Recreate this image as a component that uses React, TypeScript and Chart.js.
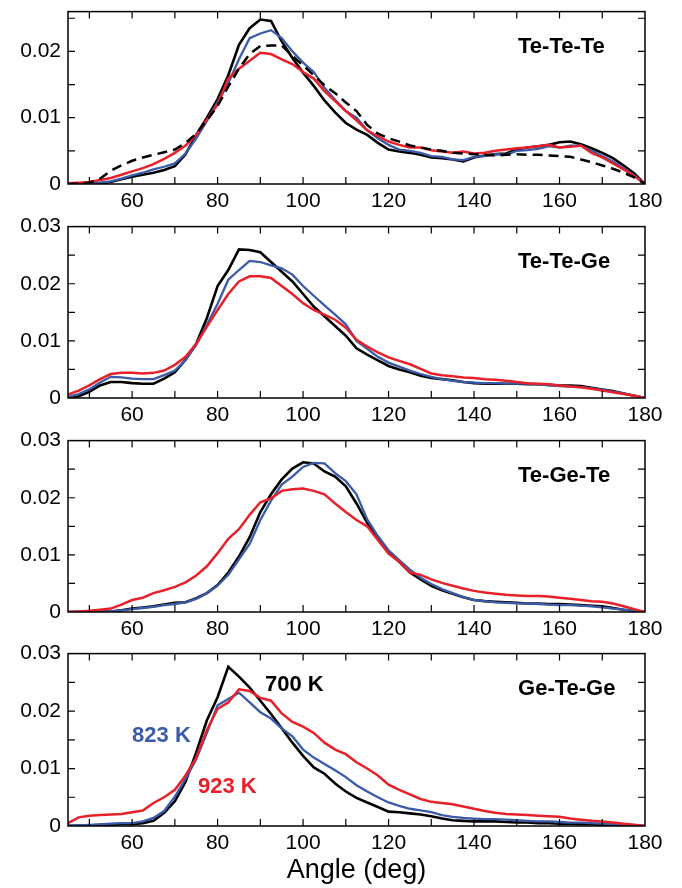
import React, { useEffect, useRef } from "react";
import { Chart, registerables } from "chart.js";

Chart.register(...registerables);

// ---------- data ----------
const angles = [
  45, 47.5, 50, 52.5, 55, 57.5, 60, 62.5, 65, 67.5, 70, 72.5, 75, 77.5, 80, 82.5, 85, 87.5, 90, 92.5,
  95, 97.5, 100, 102.5, 105, 107.5, 110, 112.5, 115, 117.5, 120, 122.5, 125, 127.5, 130, 132.5, 135,
  137.5, 140, 142.5, 145, 147.5, 150, 152.5, 155, 157.5, 160, 162.5, 165, 167.5, 170, 172.5, 175,
  177.5, 180,
];
const xTickValues = [60, 80, 100, 120, 140, 160, 180];
const xMinorTicks = [50, 60, 70, 80, 90, 100, 110, 120, 130, 140, 150, 160, 170];
const yTicksTop = [0, 0.01, 0.02];
const yTicksOther = [0, 0.01, 0.02, 0.03];
const yMinorTicks = [0.005, 0.01, 0.015, 0.02, 0.025];

// Te-Te-Te
const ttt700 = [0, 0, 0, 0.0001, 0.0003, 0.0007, 0.0011, 0.0014, 0.0017, 0.0021, 0.0027, 0.0045, 0.0074, 0.01, 0.0128, 0.0164, 0.021, 0.0235, 0.0248, 0.0246, 0.0215, 0.019, 0.0168, 0.0148, 0.0126, 0.0108, 0.0092, 0.0082, 0.0074, 0.0062, 0.0052, 0.0049, 0.0047, 0.0044, 0.004, 0.0039, 0.0037, 0.0034, 0.004, 0.0043, 0.0045, 0.0046, 0.0052, 0.0055, 0.0057, 0.0059, 0.0063, 0.0064, 0.006, 0.0054, 0.0047, 0.0039, 0.0028, 0.0016, 0];
const ttt823 = [0, 0, 0, 0.0002, 0.0004, 0.0008, 0.0013, 0.0017, 0.0022, 0.0026, 0.0031, 0.0046, 0.0069, 0.0095, 0.0123, 0.0152, 0.0188, 0.022, 0.0227, 0.0232, 0.022, 0.02, 0.0183, 0.0169, 0.0145, 0.0127, 0.011, 0.01, 0.0081, 0.0069, 0.0059, 0.0052, 0.005, 0.0047, 0.0042, 0.0041, 0.0037, 0.0036, 0.0041, 0.0042, 0.0045, 0.0044, 0.005, 0.0051, 0.0053, 0.0057, 0.0055, 0.0058, 0.0058, 0.005, 0.0042, 0.0034, 0.0024, 0.0013, 0];
const ttt923 = [0.0001, 0.0002, 0.0003, 0.0006, 0.0009, 0.0014, 0.0019, 0.0024, 0.003, 0.0038, 0.0047, 0.0058, 0.0074, 0.0097, 0.012, 0.0159, 0.0174, 0.0186, 0.0198, 0.0196, 0.0188, 0.0181, 0.0169, 0.0159, 0.014, 0.0125, 0.011, 0.0096, 0.0081, 0.0072, 0.0064, 0.0059, 0.0055, 0.0055, 0.0051, 0.0049, 0.0047, 0.0049, 0.0046, 0.0047, 0.005, 0.0052, 0.0054, 0.0055, 0.0057, 0.0059, 0.0055, 0.0056, 0.0058, 0.0047, 0.004, 0.0031, 0.0022, 0.0012, 0];
const tttRef = [0, 0.0001, 0.0002, 0.0008, 0.002, 0.0028, 0.0035, 0.004, 0.0044, 0.0048, 0.0052, 0.0062, 0.0076, 0.0096, 0.0118, 0.0147, 0.0174, 0.0196, 0.0208, 0.0209, 0.0209, 0.0193, 0.0179, 0.0164, 0.0149, 0.0137, 0.0123, 0.011, 0.0089, 0.0076, 0.0069, 0.0064, 0.0058, 0.0055, 0.0052, 0.005, 0.0047, 0.0046, 0.0045, 0.0044, 0.0043, 0.0044, 0.0045, 0.0044, 0.0044, 0.0043, 0.0042, 0.0041, 0.0037, 0.0033, 0.0028, 0.0023, 0.0017, 0.001, 0];

// Te-Te-Ge
const ttg700 = [0, 0.0003, 0.0011, 0.0022, 0.0028, 0.0028, 0.0026, 0.0025, 0.0025, 0.0034, 0.0045, 0.0067, 0.0095, 0.014, 0.0196, 0.0224, 0.026, 0.0259, 0.0255, 0.0238, 0.0221, 0.0204, 0.0182, 0.016, 0.0143, 0.0126, 0.0109, 0.0087, 0.0076, 0.0066, 0.0056, 0.005, 0.0045, 0.0039, 0.0035, 0.0033, 0.0031, 0.0028, 0.0026, 0.0025, 0.0025, 0.0025, 0.0025, 0.0024, 0.0024, 0.0023, 0.0022, 0.0022, 0.0021, 0.0018, 0.0015, 0.0012, 0.0008, 0.0004, 0];
const ttg823 = [0.0002, 0.0007, 0.0015, 0.0027, 0.0037, 0.0036, 0.0034, 0.0033, 0.0033, 0.004, 0.0048, 0.0066, 0.0093, 0.0128, 0.0165, 0.0207, 0.0224, 0.024, 0.0238, 0.0232, 0.0227, 0.0216, 0.0196, 0.0179, 0.0162, 0.0146, 0.0129, 0.01, 0.0086, 0.0072, 0.0062, 0.0055, 0.0048, 0.0042, 0.0037, 0.0033, 0.003, 0.0028, 0.0027, 0.0026, 0.0026, 0.0025, 0.0025, 0.0025, 0.0024, 0.0022, 0.0021, 0.002, 0.0019, 0.0017, 0.0014, 0.0011, 0.0008, 0.0004, 0];
const ttg923 = [0.0006, 0.0013, 0.0022, 0.0033, 0.0042, 0.0044, 0.0044, 0.0043, 0.0044, 0.0048, 0.0058, 0.0072, 0.0095, 0.0125, 0.0154, 0.0182, 0.0204, 0.0213, 0.0213, 0.021, 0.0196, 0.0182, 0.0166, 0.0154, 0.0146, 0.0137, 0.0123, 0.0102, 0.009, 0.008, 0.0071, 0.0065, 0.0059, 0.0051, 0.0043, 0.004, 0.0038, 0.0036, 0.0035, 0.0033, 0.0032, 0.003, 0.0028, 0.0026, 0.0025, 0.0024, 0.0022, 0.002, 0.0019, 0.0016, 0.0013, 0.001, 0.0007, 0.0004, 0];

// Te-Ge-Te
const tgt700 = [0, 0, 0, 0.0001, 0.0001, 0.0003, 0.0006, 0.0008, 0.001, 0.0013, 0.0016, 0.0017, 0.0024, 0.0033, 0.0047, 0.0069, 0.0097, 0.0131, 0.0175, 0.0206, 0.0232, 0.0251, 0.0262, 0.026, 0.0246, 0.0237, 0.022, 0.019, 0.0156, 0.0128, 0.0105, 0.0088, 0.0069, 0.0057, 0.0046, 0.0038, 0.0032, 0.0026, 0.0021, 0.0019, 0.0018, 0.0017, 0.0016, 0.0015, 0.0015, 0.0014, 0.0014, 0.0013, 0.0012, 0.0011, 0.001, 0.0007, 0.0004, 0.0002, 0];
const tgt823 = [0, 0, 0, 0.0001, 0.0001, 0.0003, 0.0005, 0.0007, 0.0009, 0.0012, 0.0014, 0.0017, 0.0023, 0.0033, 0.0046, 0.0065, 0.0092, 0.0119, 0.0161, 0.0195, 0.0223, 0.0237, 0.0254, 0.0261, 0.026, 0.0243, 0.0229, 0.0206, 0.0162, 0.0133, 0.0108, 0.0091, 0.0074, 0.006, 0.0049, 0.004, 0.0033, 0.0026, 0.0021, 0.0019, 0.0017, 0.0016, 0.0015, 0.0015, 0.0014, 0.0013, 0.0012, 0.0012, 0.0011, 0.001, 0.0008, 0.0006, 0.0004, 0.0002, 0];
const tgt923 = [0, 0.0001, 0.0002, 0.0004, 0.0006, 0.0013, 0.0021, 0.0025, 0.0033, 0.0038, 0.0044, 0.0052, 0.0064, 0.008, 0.0103, 0.0128, 0.0145, 0.017, 0.0192, 0.0199, 0.0212, 0.0215, 0.0216, 0.0212, 0.0206, 0.019, 0.0175, 0.0161, 0.015, 0.0126, 0.0102, 0.0088, 0.0069, 0.0065, 0.0057, 0.0051, 0.0046, 0.0041, 0.0037, 0.0034, 0.0032, 0.003, 0.0029, 0.0028, 0.0028, 0.0027, 0.0025, 0.0023, 0.0021, 0.0019, 0.0018, 0.0015, 0.001, 0.0005, 0];

// Ge-Te-Ge
const gtg700 = [0, 0.0001, 0.0001, 0.0002, 0.0002, 0.0003, 0.0003, 0.0005, 0.0009, 0.0023, 0.0043, 0.0077, 0.0128, 0.0184, 0.0224, 0.0277, 0.026, 0.0241, 0.0218, 0.0195, 0.017, 0.0145, 0.0122, 0.0102, 0.0091, 0.0074, 0.006, 0.0049, 0.0041, 0.0033, 0.0025, 0.0024, 0.0022, 0.002, 0.0017, 0.0013, 0.001, 0.0009, 0.0008, 0.0008, 0.0008, 0.0007, 0.0006, 0.0006, 0.0005, 0.0005, 0.0004, 0.0004, 0.0003, 0.0003, 0.0002, 0.0002, 0.0001, 0.0001, 0];
const gtg823 = [0.0001, 0.0001, 0.0002, 0.0003, 0.0004, 0.0005, 0.0005, 0.0008, 0.0014, 0.0026, 0.0051, 0.0082, 0.0116, 0.0162, 0.021, 0.0221, 0.0232, 0.0215, 0.0198, 0.0187, 0.017, 0.0156, 0.0133, 0.0119, 0.0108, 0.0097, 0.0085, 0.0071, 0.006, 0.005, 0.0041, 0.0035, 0.003, 0.0027, 0.0024, 0.0019, 0.0016, 0.0014, 0.0013, 0.0012, 0.0012, 0.0011, 0.001, 0.0009, 0.0008, 0.0008, 0.0007, 0.0006, 0.0006, 0.0005, 0.0004, 0.0003, 0.0002, 0.0001, 0];
const gtg923 = [0.0005, 0.0015, 0.0018, 0.0019, 0.002, 0.0021, 0.0024, 0.0027, 0.004, 0.005, 0.0063, 0.0088, 0.0119, 0.0167, 0.0204, 0.0215, 0.0238, 0.0235, 0.0223, 0.0218, 0.0196, 0.0181, 0.0173, 0.0162, 0.0145, 0.0133, 0.0125, 0.0111, 0.01, 0.0088, 0.0072, 0.0063, 0.0055, 0.0047, 0.0042, 0.004, 0.0038, 0.0034, 0.003, 0.0026, 0.0023, 0.0021, 0.002, 0.0019, 0.0018, 0.0017, 0.0016, 0.0013, 0.0011, 0.0009, 0.0008, 0.0006, 0.0004, 0.0002, 0];

const panelTitles = ["Te-Te-Te", "Te-Te-Ge", "Te-Ge-Te", "Ge-Te-Ge"];
const tempLabels = ["700 K", "823 K", "923 K"];
const xAxisTitle = "Angle (deg)";

// ---------- styles ----------
const FONT = "'Liberation Sans', Arial, Helvetica, sans-serif";
const BLACK = "#000000";
const BLUE = "#3a5ba8";
const RED = "#e8202a";
const PAD_TOP = 14;
const Y_AXIS_W = 68;
const RIGHT_PAD = 37;

type Series = { data: number[]; color: string; width: number; dash?: number[]; order: number };
type Note = { text: string; x: number; y: number; color: string };
type Spec = {
  title: string;
  top: number;
  height: number;
  xh: number;
  yMax: number;
  yTicks: number[];
  series: Series[];
  xTitle?: string;
  notes?: Note[];
};

const solid = (d700: number[], d823: number[], d923: number[]): Series[] => [
  { data: d700, color: BLACK, width: 2.6, order: 3 },
  { data: d823, color: BLUE, width: 2.3, order: 2 },
  { data: d923, color: RED, width: 2.5, order: 1 },
];

const specs: Spec[] = [
  {
    title: panelTitles[0], top: 6, height: 178, xh: 36, yMax: 0.026, yTicks: yTicksTop,
    series: [...solid(ttt700, ttt823, ttt923), { data: tttRef, color: BLACK, width: 2.5, dash: [10, 6], order: 0 }],
  },
  { title: panelTitles[1], top: 221, height: 177, xh: 36, yMax: 0.03, yTicks: yTicksOther, series: solid(ttg700, ttg823, ttg923) },
  { title: panelTitles[2], top: 435, height: 177, xh: 36, yMax: 0.03, yTicks: yTicksOther, series: solid(tgt700, tgt823, tgt923) },
  {
    title: panelTitles[3], top: 648, height: 178, xh: 62, yMax: 0.03, yTicks: yTicksOther, series: solid(gtg700, gtg823, gtg923),
    xTitle: xAxisTitle,
    notes: [
      { text: tempLabels[0], x: 91.1, y: 0.0245, color: BLACK },
      { text: tempLabels[1], x: 60, y: 0.0156, color: BLUE },
      { text: tempLabels[2], x: 75.4, y: 0.0068, color: RED },
    ],
  },
];

function Panel({ spec }: { spec: Spec }) {
  const ref = useRef<HTMLCanvasElement>(null);
  const canvasH = PAD_TOP + spec.height + spec.xh;

  useEffect(() => {
    if (!ref.current) return;
    const framePlugin = {
      id: "frame",
      afterDraw(chart: any) {
        const { ctx, chartArea, scales } = chart;
        const { left, right, top, bottom } = chartArea;
        const x = scales.x;
        const y = scales.y;
        ctx.save();
        ctx.strokeStyle = BLACK;
        ctx.lineWidth = 1.2;
        ctx.beginPath();
        for (const v of xMinorTicks) {
          const px = x.getPixelForValue(v);
          ctx.moveTo(px, bottom);
          ctx.lineTo(px, bottom - 7);
          ctx.moveTo(px, top);
          ctx.lineTo(px, top + 7);
        }
        for (const v of yMinorTicks) {
          if (v >= spec.yMax - 1e-9) continue;
          const py = y.getPixelForValue(v);
          ctx.moveTo(left, py);
          ctx.lineTo(left + 7, py);
          ctx.moveTo(right, py);
          ctx.lineTo(right - 7, py);
        }
        ctx.stroke();
        ctx.lineWidth = 1.5;
        ctx.strokeRect(left, top, right - left, bottom - top);

        ctx.font = `bold 22px ${FONT}`;
        ctx.textBaseline = "middle";
        ctx.textAlign = "left";
        ctx.fillStyle = BLACK;
        ctx.fillText(spec.title, x.getPixelForValue(150.3), top + 35);
        for (const n of spec.notes || []) {
          ctx.fillStyle = n.color;
          ctx.fillText(n.text, x.getPixelForValue(n.x), y.getPixelForValue(n.y));
        }
        ctx.restore();
      },
    };

    const chart = new Chart(ref.current, {
      type: "line",
      data: {
        datasets: spec.series.map((s) => ({
          data: angles.map((a, j) => ({ x: a, y: s.data[j] })),
          borderColor: s.color,
          backgroundColor: s.color,
          borderWidth: s.width,
          borderDash: s.dash || [],
          pointRadius: 0,
          tension: 0,
          fill: false,
          order: s.order,
        })),
      },
      options: {
        responsive: false,
        maintainAspectRatio: false,
        animation: false,
        events: [],
        layout: { padding: { top: PAD_TOP, right: RIGHT_PAD, left: 0, bottom: 0 } },
        plugins: { legend: { display: false }, tooltip: { enabled: false }, title: { display: false } },
        scales: {
          x: {
            type: "linear",
            min: 45,
            max: 180,
            grid: { display: false, drawTicks: false },
            border: { display: false },
            afterBuildTicks: (s: any) => {
              s.ticks = xTickValues.map((v) => ({ value: v }));
            },
            afterFit: (s: any) => {
              s.height = spec.xh;
            },
            ticks: {
              padding: 5,
              color: BLACK,
              maxRotation: 0,
              autoSkip: false,
              font: { family: FONT, size: 21 },
            },
            title: {
              display: !!spec.xTitle,
              text: spec.xTitle || "",
              color: BLACK,
              font: { family: FONT, size: 27 },
              padding: { top: 0, bottom: 1 },
            },
          },
          y: {
            type: "linear",
            min: 0,
            max: spec.yMax,
            grid: { display: false, drawTicks: false },
            border: { display: false },
            afterBuildTicks: (s: any) => {
              s.ticks = spec.yTicks.map((v) => ({ value: v }));
            },
            afterFit: (s: any) => {
              s.width = Y_AXIS_W;
            },
            ticks: {
              padding: 7,
              color: BLACK,
              font: { family: FONT, size: 21 },
              callback: (v: any) => (Number(v) === 0 ? "0" : Number(v).toFixed(2)),
            },
          },
        },
      } as any,
      plugins: [framePlugin],
    });
    return () => chart.destroy();
  }, [spec]);

  return (
    <canvas
      ref={ref}
      width={682}
      height={canvasH}
      style={{ position: "absolute", left: 0, top: spec.top - PAD_TOP, width: 682, height: canvasH }}
    />
  );
}

export default function App() {
  return (
    <div
      style={{
        position: "absolute",
        left: 0,
        top: 0,
        width: 682,
        height: 888,
        overflow: "hidden",
        background: "#ffffff",
      }}
    >
      {specs.map((s) => (
        <Panel key={s.title} spec={s} />
      ))}
    </div>
  );
}
